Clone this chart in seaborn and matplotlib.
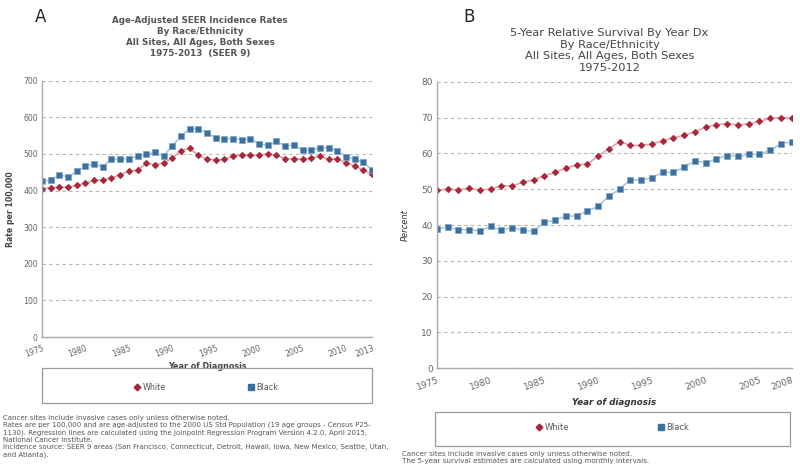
import seaborn as sns
import matplotlib.pyplot as plt
import pandas as pd
from matplotlib.lines import Line2D
from matplotlib.patches import Rectangle
from matplotlib.ticker import MultipleLocator

# Data - panel A: incidence rates per 100,000, 1975-2013
years_a = list(range(1975, 2014))
white_a = [404, 408, 409, 409, 414, 420, 428, 428, 435, 443, 453, 456, 474, 471, 475,
           488, 509, 515, 496, 486, 483, 485, 494, 496, 498, 496, 501, 496, 487, 487,
           485, 489, 493, 486, 486, 475, 468, 455, 445]
black_a = [426, 428, 443, 437, 452, 467, 472, 465, 485, 487, 487, 493, 500, 504, 494,
           522, 548, 569, 568, 558, 544, 541, 542, 539, 541, 528, 523, 535, 521, 525,
           510, 510, 517, 517, 509, 492, 485, 478, 456]
xticks_a = [1975, 1980, 1985, 1990, 1995, 2000, 2005, 2010, 2013]

# Data - panel B: 5-year relative survival (percent), 1975-2008
years_b = list(range(1975, 2009))
white_b = [49.7, 50.0, 49.8, 50.2, 49.8, 50.0, 51.0, 50.9, 52.0, 52.5, 53.8, 54.7, 55.9,
           56.8, 57.0, 59.3, 61.3, 63.3, 62.2, 62.2, 62.6, 63.5, 64.4, 65.0, 66.1, 67.3,
           68.0, 68.3, 67.9, 68.3, 68.9, 69.8, 70.0, 69.8]
black_b = [38.9, 39.4, 38.7, 38.7, 38.3, 39.6, 38.5, 39.3, 38.5, 38.3, 40.7, 41.4, 42.5,
           42.5, 43.9, 45.2, 48.1, 50.0, 52.7, 52.5, 53.2, 54.7, 54.7, 56.2, 57.9, 57.4,
           58.4, 59.4, 59.2, 59.7, 59.7, 60.9, 62.7, 63.2]
xticks_b = [1975, 1980, 1985, 1990, 1995, 2000, 2005, 2008]

df_a = pd.DataFrame({"year": years_a, "White": white_a, "Black": black_a})
df_b = pd.DataFrame({"year": years_b, "White": white_b, "Black": black_b})

sns.set_style("white")
plt.rcParams['font.family'] = ['DejaVu Sans']

RED, RED_L = "#a8283a", "#e59aa1"
BLUE, BLUE_L = "#3d6f9e", "#a3c6de"
GRAY = "#666666"

fig = plt.figure(figsize=(8, 4.76), dpi=100)
ax_a = fig.add_axes([0.0525, 0.292, 0.4125, 0.5385])
ax_b = fig.add_axes([0.546, 0.2263, 0.4437, 0.602])


def draw(ax, df, ymax, ystep, yminor, xticks, tick_fs):
    sns.lineplot(data=df, x="year", y="White", ax=ax, color=RED_L, lw=1.1,
                 marker="D", markersize=3.1, markerfacecolor=RED, markeredgecolor=RED)
    sns.lineplot(data=df, x="year", y="Black", ax=ax, color=BLUE_L, lw=1.1,
                 marker="s", markersize=3.7, markerfacecolor=BLUE, markeredgecolor="#79a3c6",
                 markeredgewidth=0.5)
    ax.set_xlim(df["year"].iloc[0], df["year"].iloc[-1])
    ax.set_ylim(0, ymax)
    ax.yaxis.set_major_locator(MultipleLocator(ystep))
    ax.yaxis.set_minor_locator(MultipleLocator(yminor))
    ax.set_xticks(xticks)
    ax.xaxis.set_minor_locator(MultipleLocator(1))
    ax.grid(axis="y", color="#b5b5b5", ls=(0, (3, 3)), lw=0.8)
    gl = ax.get_ygridlines()
    gl[0].set_visible(False)
    gl[-1].set_visible(False)
    for s in ["top", "right"]:
        ax.spines[s].set_visible(False)
    for s in ["left", "bottom"]:
        ax.spines[s].set_color("#aaaaaa")
        ax.spines[s].set_linewidth(1.0)
    ax.tick_params(axis="both", which="both", direction="out", color="#999999",
                   labelcolor=GRAY, labelsize=tick_fs)
    ax.tick_params(axis="x", which="major", length=4, width=0.8, pad=1)
    ax.tick_params(axis="x", which="minor", length=3, width=0.6)
    ax.tick_params(axis="y", which="major", length=0, pad=3)
    ax.tick_params(axis="y", which="minor", length=2, width=0.6)
    for lbl in ax.get_xticklabels():
        lbl.set_rotation(20)
        lbl.set_ha("right")
        lbl.set_rotation_mode("anchor")


draw(ax_a, df_a, 700, 100, 20, xticks_a, 5.6)
draw(ax_b, df_b, 80, 10, 2, xticks_b, 6.5)

ax_a.set_xlabel("Year of Diagnosis", fontsize=5.8, fontweight="bold", color="#444444", labelpad=2)
ax_a.set_ylabel("Rate per 100,000", fontsize=5.6, fontweight="bold", color="#444444", labelpad=6)
ax_b.set_xlabel("Year of diagnosis", fontsize=6.3, fontweight="bold", style="italic",
                color="#333333", labelpad=5)
ax_b.set_ylabel("Percent", fontsize=6, style="italic", color="#333333", labelpad=8)

fig.text(0.25, 0.922, "Age-Adjusted SEER Incidence Rates\nBy Race/Ethnicity\n"
         "All Sites, All Ages, Both Sexes\n1975-2013  (SEER 9)",
         ha="center", va="center", fontsize=6.3, fontweight="bold", color="#555555",
         linespacing=1.3)
fig.text(0.762, 0.894, "5-Year Relative Survival By Year Dx\nBy Race/Ethnicity\n"
         "All Sites, All Ages, Both Sexes\n1975-2012",
         ha="center", va="center", fontsize=8.2, color="#444444", linespacing=1.22)

fig.text(0.044, 0.983, "A", fontsize=12, va="top", ha="left")
fig.text(0.579, 0.983, "B", fontsize=12, va="top", ha="left")

# legends
handles = [Line2D([], [], ls="none", marker="D", markersize=3.4, color=RED),
           Line2D([], [], ls="none", marker="s", markersize=4.0, color=BLUE)]
labels = ["White", "Black"]
fig.patches.append(Rectangle((42 / 800, 1 - 403 / 476), 330 / 800, 35 / 476,
                             transform=fig.transFigure, fill=False, ec="#999999", lw=0.9))
fig.legend(handles, labels, loc="center", bbox_to_anchor=(206 / 800, 1 - 387 / 476),
           ncol=2, frameon=False, fontsize=5.8, columnspacing=10, handletextpad=0.2,
           handlelength=1, labelcolor="#555555")
fig.patches.append(Rectangle((435 / 800, 1 - 446 / 476), 355 / 800, 34 / 476,
                             transform=fig.transFigure, fill=False, ec="#999999", lw=0.9))
fig.legend(handles, labels, loc="center", bbox_to_anchor=(612 / 800, 1 - 427 / 476),
           ncol=2, frameon=False, fontsize=6, columnspacing=10.5, handletextpad=0.2,
           handlelength=1, labelcolor="#555555")

# footnotes
fig.text(0.004, 1 - 415 / 476,
         "Cancer sites include invasive cases only unless otherwise noted.\n"
         "Rates are per 100,000 and are age-adjusted to the 2000 US Std Population (19 age groups - Census P25-\n"
         "1130). Regression lines are calculated using the Joinpoint Regression Program Version 4.2.0, April 2015,\n"
         "National Cancer Institute.\n"
         "Incidence source: SEER 9 areas (San Francisco, Connecticut, Detroit, Hawaii, Iowa, New Mexico, Seattle, Utah,\n"
         "and Atlanta).",
         fontsize=5.0, color="#555555", va="top", ha="left", linespacing=1.2)
fig.text(0.503, 1 - 451 / 476,
         "Cancer sites include invasive cases only unless otherwise noted.\n"
         "The 5-year survival estimates are calculated using monthly intervals.",
         fontsize=5.1, color="#555555", va="top", ha="left", linespacing=1.3)

fig.savefig("out.png", dpi=100, facecolor="white")
